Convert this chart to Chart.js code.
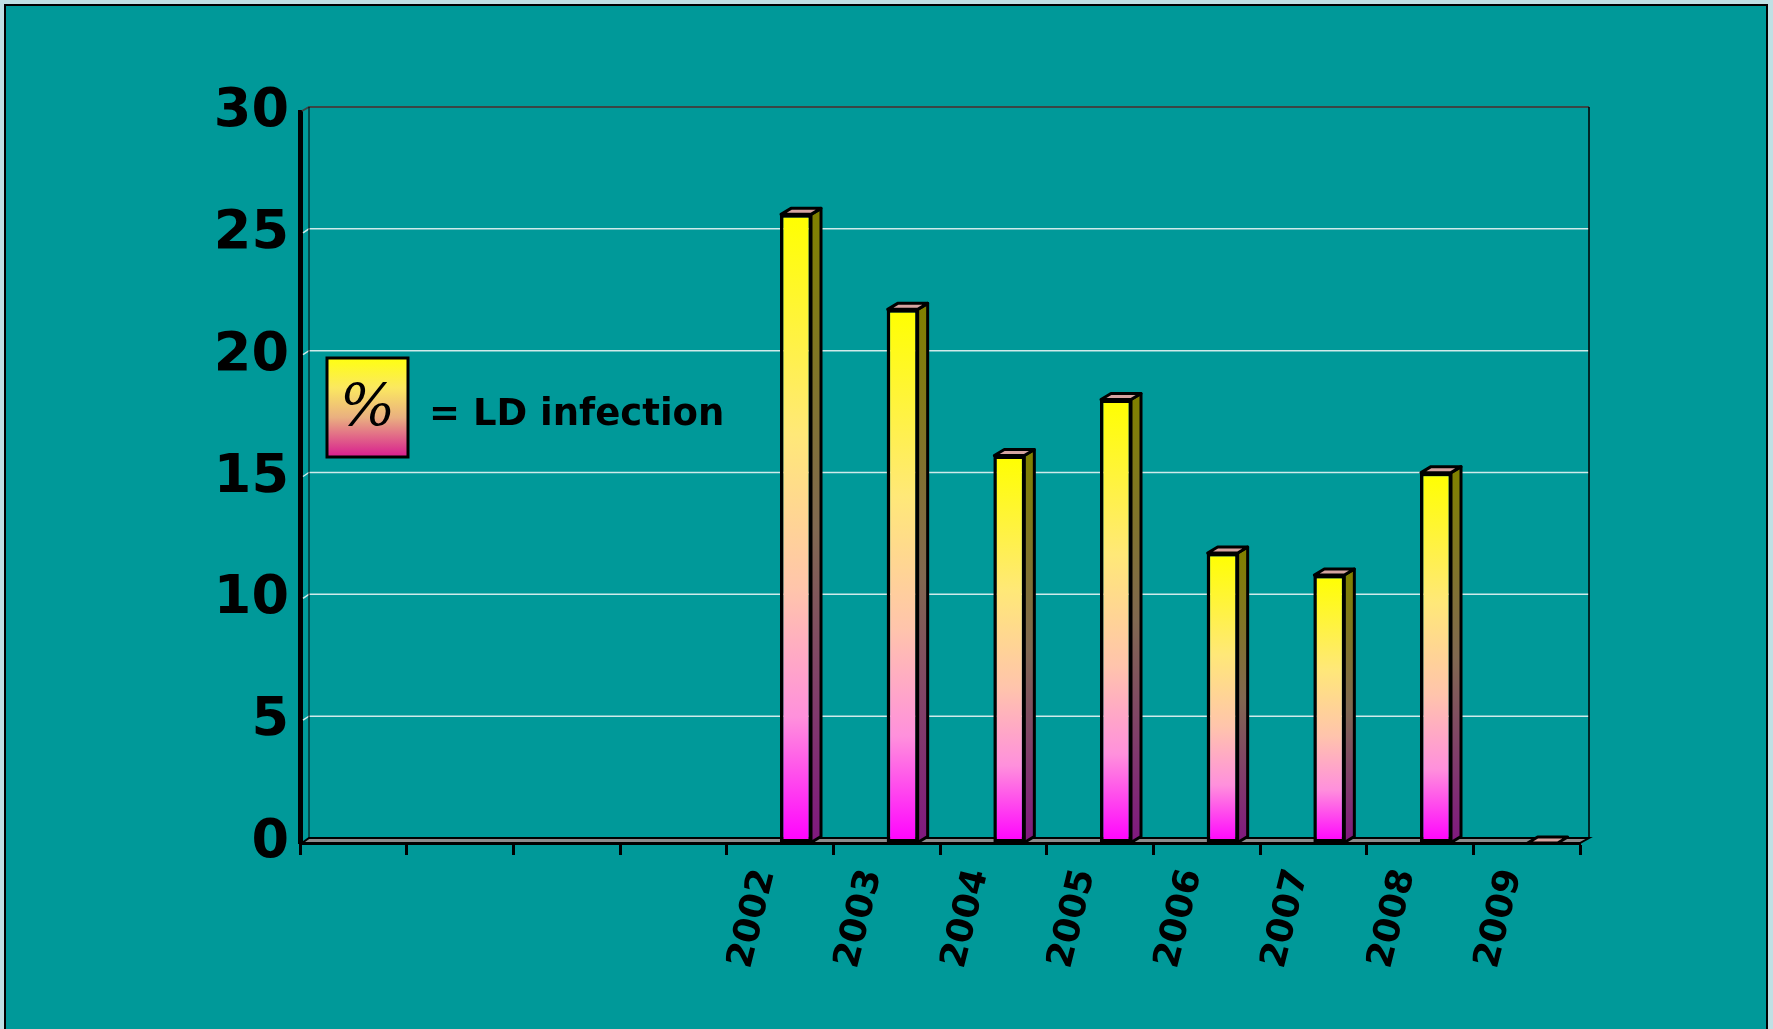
<!DOCTYPE html>
<html>
<head>
<meta charset="utf-8">
<script src="https://cdn.jsdelivr.net/npm/chart.js@4.4.1/dist/chart.umd.min.js"></script>
<style>
    html, body { margin: 0; padding: 0; width: 1773px; height: 1029px; overflow: hidden; background: #bfe0e4; }
    #frame { position: absolute; left: 4px; top: 4px; width: 1760px; height: 1040px; background: #009999; border: 2px solid #000; }
    #wrap { position: absolute; left: 0; top: 0; width: 1773px; height: 1029px; }
</style>
</head>
<body>
<div id="frame"></div>
<div id="wrap"><canvas id="ld-chart"></canvas></div>
<script>
const years = ['', '', '', '', '2002', '2003', '2004', '2005', '2006', '2007', '2008', '2009'];
const infection = [null, null, null, null, 25.8, 21.9, 15.9, 18.2, 11.9, 11.0, 15.2, 0];
const yTicks = [0, 5, 10, 15, 20, 25, 30];
const legendSymbol = '%';
const legendText = '= LD infection';

// depth of the walls / floor and of the bars
const DX = 9, DY = 5;
const BAR_SHIFT = 16;
const BAR_DX = 10, BAR_DY = 6;

function frontFill(c) {
    const chart = c.chart;
    if (!chart.chartArea || c.raw == null) return 'transparent';
    const y = chart.scales.y;
    const top = y.getPixelForValue(c.raw);
    const bot = y.getPixelForValue(0);
    const g = chart.ctx.createLinearGradient(0, top, 0, bot + 0.01);
    g.addColorStop(0, '#ffff00');
    g.addColorStop(0.35, '#ffe878');
    g.addColorStop(0.6, '#ffc4ac');
    g.addColorStop(0.8, '#ff90dc');
    g.addColorStop(1, '#ff00ff');
    return g;
}

const wall3d = {
    id: 'wall3d',
    beforeDatasetsDraw(chart) {
        const {ctx, chartArea: a, scales: {y}} = chart;
        const top = y.getPixelForValue(30);
        ctx.save();
        // gridlines on the back wall
        ctx.strokeStyle = '#cfeaea';
        ctx.lineWidth = 1.5;
        y.ticks.forEach(t => {
            if (t.value === 0 || t.value === 30) return;
            const py = y.getPixelForValue(t.value);
            ctx.beginPath();
            ctx.moveTo(a.left + 3, py - 1);
            ctx.lineTo(a.left + DX, py - DY);
            ctx.lineTo(a.right + DX, py - DY);
            ctx.stroke();
        });
        // wall edges
        ctx.strokeStyle = '#3a4646';
        ctx.lineWidth = 2;
        ctx.beginPath();
        ctx.moveTo(a.left + 2, top - 1);
        ctx.lineTo(a.left + DX, top - DY);
        ctx.lineTo(a.right + DX, top - DY);
        ctx.stroke();
        ctx.strokeStyle = '#000';
        ctx.lineWidth = 1.5;
        ctx.beginPath();
        ctx.moveTo(a.right + DX, top - DY);
        ctx.lineTo(a.right + DX, a.bottom - DY);
        ctx.stroke();
        ctx.lineWidth = 1;
        ctx.beginPath();
        ctx.moveTo(a.left + DX, top - DY);
        ctx.lineTo(a.left + DX, a.bottom - DY);
        ctx.stroke();
        // floor
        ctx.fillStyle = '#8c8c8c';
        ctx.strokeStyle = '#000';
        ctx.lineWidth = 2;
        ctx.beginPath();
        ctx.moveTo(a.left + 2, a.bottom);
        ctx.lineTo(a.right, a.bottom);
        ctx.lineTo(a.right + DX, a.bottom - DY);
        ctx.lineTo(a.left + DX, a.bottom - DY);
        ctx.closePath();
        ctx.fill();
        ctx.stroke();
        ctx.restore();

        ctx.save();
        ctx.translate(BAR_SHIFT, 0);
    },
    afterDatasetsDraw(chart) {
        const {ctx} = chart;
        const meta = chart.getDatasetMeta(0);
        const data = chart.data.datasets[0].data;
        ctx.lineWidth = 3;
        ctx.strokeStyle = '#000';
        ctx.lineJoin = 'round';
        meta.data.forEach((bar, i) => {
            if (data[i] == null) return;
            const {x, y, base, width} = bar.getProps(['x', 'y', 'base', 'width'], true);
            const l = x - width / 2 + 1, r = x + width / 2 - 1;
            if (base - y > 1) {
                const g = ctx.createLinearGradient(0, y, 0, base);
                g.addColorStop(0, '#808000');
                g.addColorStop(0.5, '#806850');
                g.addColorStop(1, '#801880');
                ctx.fillStyle = g;
                ctx.beginPath();
                ctx.moveTo(r, y);
                ctx.lineTo(r + BAR_DX, y - BAR_DY);
                ctx.lineTo(r + BAR_DX, base - BAR_DY);
                ctx.lineTo(r, base);
                ctx.closePath();
                ctx.fill();
                ctx.stroke();
            }
            ctx.fillStyle = '#d6a4a0';
            ctx.beginPath();
            ctx.moveTo(l, y);
            ctx.lineTo(l + BAR_DX, y - BAR_DY);
            ctx.lineTo(r + BAR_DX, y - BAR_DY);
            ctx.lineTo(r, y);
            ctx.closePath();
            ctx.fill();
            ctx.stroke();
        });
        ctx.restore();
    }
};

const legendBox = {
    id: 'legendBox',
    afterDraw(chart) {
        const {ctx, chartArea: a} = chart;
        const bx = a.left + 27, by = 358, bw = 81, bh = 99;
        ctx.save();
        const g = ctx.createLinearGradient(0, by, 0, by + bh);
        g.addColorStop(0, '#ffff10');
        g.addColorStop(0.3, '#fbe860');
        g.addColorStop(0.6, '#eab080');
        g.addColorStop(1, '#d81c90');
        ctx.fillStyle = g;
        ctx.fillRect(bx, by, bw, bh);
        ctx.strokeStyle = '#000';
        ctx.lineWidth = 3;
        ctx.strokeRect(bx, by, bw, bh);
        ctx.fillStyle = '#000';
        ctx.textAlign = 'center';
        ctx.textBaseline = 'middle';
        ctx.font = 'italic 58px "DejaVu Serif"';
        ctx.fillText(legendSymbol, bx + bw / 2, by + bh / 2 + 2);
        ctx.textAlign = 'left';
        ctx.textBaseline = 'alphabetic';
        ctx.font = 'bold 37px "DejaVu Sans"';
        ctx.fillText(legendText, a.left + 129, 425);
        ctx.restore();
    }
};

new Chart(document.getElementById('ld-chart'), {
    type: 'bar',
    data: {
        labels: years,
        datasets: [
            {
                label: legendText,
                data: infection,
                backgroundColor: frontFill,
                borderColor: '#000',
                borderWidth: 3.5,
                borderSkipped: false,
                barPercentage: 0.3,
                categoryPercentage: 1
            }
        ]
    },
    options: {
        responsive: true,
        maintainAspectRatio: false,
        animation: false,
        layout: {
            padding: { left: 0, top: 112, right: 193, bottom: 36 }
        },
        plugins: {
            legend: { display: false },
            tooltip: { enabled: false }
        },
        scales: {
            x: {
                grid: {
                    display: true,
                    drawOnChartArea: false,
                    drawTicks: true,
                    tickLength: 12,
                    tickWidth: 3,
                    tickColor: '#000',
                    offset: true
                },
                border: { display: true, color: '#000', width: 3 },
                ticks: {
                    autoSkip: false,
                    minRotation: 76,
                    maxRotation: 76,
                    padding: 10,
                    labelOffset: -15,
                    color: '#000',
                    font: { family: 'DejaVu Sans', weight: 'bold', size: 36 }
                },
                afterFit(s) { s.height = 150; }
            },
            y: {
                min: 0,
                max: 30,
                afterBuildTicks(s) { s.ticks = yTicks.map(v => ({ value: v })); },
                grid: { drawOnChartArea: false, drawTicks: false },
                border: { display: true, color: '#000', width: 5 },
                ticks: {
                    padding: 11,
                    color: '#000',
                    font: { family: 'DejaVu Sans', weight: 'bold', size: 54 }
                },
                afterFit(s) { s.width = 300; }
            }
        }
    },
    plugins: [wall3d, legendBox]
});
</script>
</body>
</html>
